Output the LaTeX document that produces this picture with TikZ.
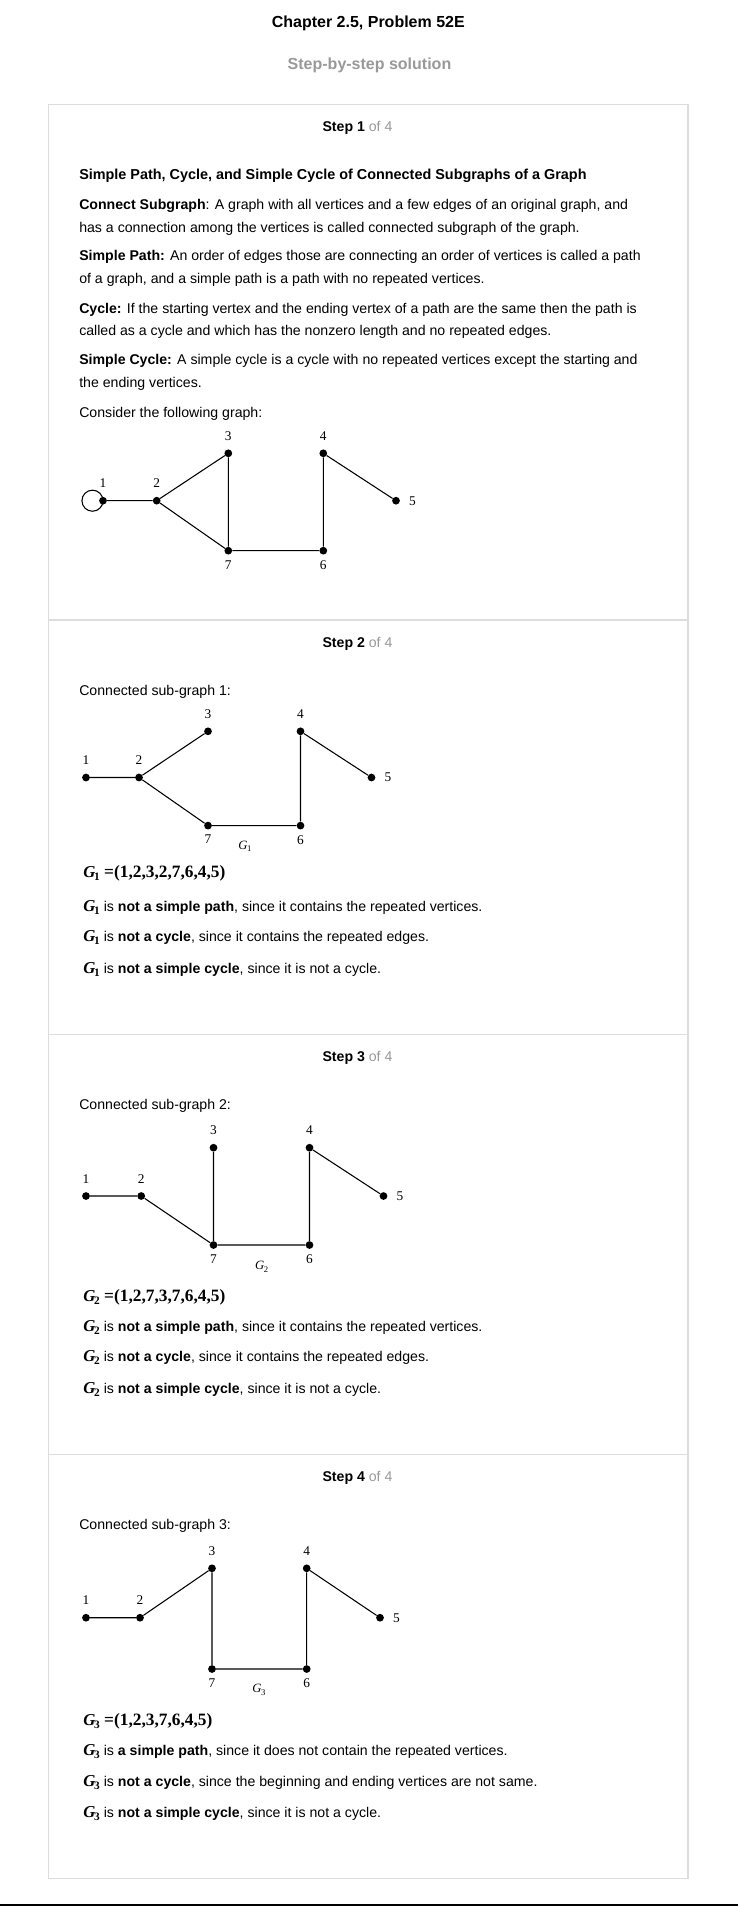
\documentclass[tikz,border=0pt]{standalone}
\usepackage{fontspec}
\setmainfont{Liberation Sans}
\newfontfamily\serifface{Liberation Serif}
\definecolor{softgray}{HTML}{999999}
\definecolor{rulegray}{HTML}{DDDDDD}
\newcommand{\bodysize}{\fontsize{10.6}{12.5}\selectfont}
\newcommand{\gsym}[1]{{\serifface\bfseries\fontsize{12.5}{12.5}\selectfont\itshape G\kern-0.8pt\raisebox{-2.3pt}{\upshape\fontsize{8.5}{8.5}\selectfont #1}}}
\newcommand{\gtag}[1]{{\serifface\fontsize{9.5}{9.5}\selectfont\itshape G\kern-0.3pt\raisebox{-1.8pt}{\upshape\fontsize{6.5}{6.5}\selectfont #1}}}
\newcommand{\steplabel}[1]{{\bfseries Step #1} {\color{softgray}of 4}}
\begin{document}
\begin{tikzpicture}[x=0.75pt,y=-0.75pt,
    txt/.style={anchor=base west,inner sep=0pt,font=\bodysize},
    steptxt/.style={anchor=base,inner sep=0pt,font=\bodysize},
    eqtxt/.style={anchor=base west,inner sep=0pt,font=\serifface\bfseries\fontsize{13}{13}\selectfont},
    vtx/.style={circle,fill=black,inner sep=0pt,minimum size=5.8pt},
    num/.style={inner sep=0pt,font=\serifface\fontsize{10}{10}\selectfont},
    vup/.style={label={[num,label distance=6.3pt]above:#1}},
    vdn/.style={label={[num,label distance=3.9pt]below:#1}},
    vrt/.style={label={[num,label distance=6.6pt]right:#1}},
    edge/.style={line width=0.8pt}]
\useasboundingbox (0,0) rectangle (738,1906);
\fill[white] (0,0) rectangle (738,1906);

% header
\node[anchor=base,inner sep=0pt,font=\bfseries\fontsize{12}{14}\selectfont] (title) at (368.3,27.5) {Chapter 2.5, Problem 52E};
\node[anchor=base,inner sep=0pt,font=\bfseries\fontsize{12}{14}\selectfont,text=softgray] (subtitle) at (369.5,69) {Step-by-step solution};

% frame
\draw[rulegray,line width=0.9pt] (48.5,104.5) rectangle (688,1878.3);
\draw[rulegray,line width=0.9pt] (48.5,620) -- (688,620);
\draw[rulegray,line width=0.9pt] (48.5,1034.3) -- (688,1034.3);
\draw[rulegray,line width=0.9pt] (48.5,1454.3) -- (688,1454.3);
\draw[black,line width=1.2pt] (0,1905.2) -- (738,1905.2);

% step 1
\node[steptxt] (s1) at (357.5,131) {\steplabel{1}};
\node[txt,font=\bfseries\fontsize{10.8}{12.5}\selectfont] (h1) at (79,179.5) {Simple Path, Cycle, and Simple Cycle of Connected Subgraphs of a Graph};
\node[txt] (t1) at (79,209.8) {\textbf{Connect Subgraph}: A graph with all vertices and a few edges of an original graph, and};
\node[txt] (t2) at (79,232.2) {has a connection among the vertices is called connected subgraph of the graph.};
\node[txt] (t3) at (79,260.8) {\textbf{Simple Path:} An order of edges those are connecting an order of vertices is called a path};
\node[txt] (t4) at (79,283.5) {of a graph, and a simple path is a path with no repeated vertices.};
\node[txt] (t5) at (79,313) {\textbf{Cycle:} If the starting vertex and the ending vertex of a path are the same then the path is};
\node[txt] (t6) at (79,335.5) {called as a cycle and which has the nonzero length and no repeated edges.};
\node[txt] (t7) at (79,364.5) {\textbf{Simple Cycle:} A simple cycle is a cycle with no repeated vertices except the starting and};
\node[txt] (t8) at (79,387) {the ending vertices.};
\node[txt] (t9) at (79,417) {Consider the following graph:};

\node[vtx,vup=1] (a1) at (103,500.7) {};
\node[vtx,vup=2] (a2) at (156.7,500.7) {};
\node[vtx,vup=3] (a3) at (228.3,453.3) {};
\node[vtx,vup=4] (a4) at (323.3,453.3) {};
\node[vtx,vrt=5] (a5) at (396,500.7) {};
\node[vtx,vdn=6] (a6) at (323.3,550.7) {};
\node[vtx,vdn=7] (a7) at (228.3,550.7) {};
\draw[edge] (a1) -- (a2) -- (a3) -- (a7) -- (a2);
\draw[edge] (a7) -- (a6) -- (a4) -- (a5);
\draw[edge] (a1.center) arc[start angle=0,end angle=360,radius=7.9pt];

% step 2
\node[steptxt] (s2) at (357.5,647.5) {\steplabel{2}};
\node[txt] (c1) at (79,695.5) {Connected sub-graph 1:};

\node[vtx,vup=1] (b1) at (86,777.5) {};
\node[vtx,vup=2] (b2) at (139,777.5) {};
\node[vtx,vup=3] (b3) at (208,731.3) {};
\node[vtx,vup=4] (b4) at (300.5,731.3) {};
\node[vtx,vrt=5] (b5) at (371.5,777.5) {};
\node[vtx,vdn=6] (b6) at (300.5,825.6) {};
\node[vtx,vdn=7] (b7) at (208,825.6) {};
\draw[edge] (b1) -- (b2) -- (b3);
\draw[edge] (b2) -- (b7) -- (b6) -- (b4) -- (b5);
\node[inner sep=0pt] (gt1) at (245,846) {\gtag{1}};

\node[eqtxt] (e1) at (83,877.5) {\gsym{1} =(1,2,3,2,7,6,4,5)};
\node[txt] (p1) at (83,911.2) {\gsym{1} is \textbf{not a simple path}, since it contains the repeated vertices.};
\node[txt] (p2) at (83,941.8) {\gsym{1} is \textbf{not a cycle}, since it contains the repeated edges.};
\node[txt] (p3) at (83,973.5) {\gsym{1} is \textbf{not a simple cycle}, since it is not a cycle.};

% step 3
\node[steptxt] (s3) at (357.5,1061) {\steplabel{3}};
\node[txt] (c2) at (79,1109.5) {Connected sub-graph 2:};

\node[vtx,vup=1] (c21) at (86,1196) {};
\node[vtx,vup=2] (c22) at (141.2,1196) {};
\node[vtx,vup=3] (c23) at (213.5,1147.7) {};
\node[vtx,vup=4] (c24) at (309.5,1147.7) {};
\node[vtx,vrt=5] (c25) at (383.5,1196) {};
\node[vtx,vdn=6] (c26) at (309.5,1245) {};
\node[vtx,vdn=7] (c27) at (213.5,1245) {};
\draw[edge] (c21) -- (c22) -- (c27) -- (c23);
\draw[edge] (c27) -- (c26) -- (c24) -- (c25);
\node[inner sep=0pt] (gt2) at (261.7,1266.7) {\gtag{2}};

\node[eqtxt] (e2) at (83,1301) {\gsym{2} =(1,2,7,3,7,6,4,5)};
\node[txt] (q1) at (83,1331.2) {\gsym{2} is \textbf{not a simple path}, since it contains the repeated vertices.};
\node[txt] (q2) at (83,1361.8) {\gsym{2} is \textbf{not a cycle}, since it contains the repeated edges.};
\node[txt] (q3) at (83,1393.8) {\gsym{2} is \textbf{not a simple cycle}, since it is not a cycle.};

% step 4
\node[steptxt] (s4) at (357.5,1481) {\steplabel{4}};
\node[txt] (c3) at (79,1529.5) {Connected sub-graph 3:};

\node[vtx,vup=1] (d1) at (86,1617.7) {};
\node[vtx,vup=2] (d2) at (140,1617.7) {};
\node[vtx,vup=3] (d3) at (212,1568.3) {};
\node[vtx,vup=4] (d4) at (306.7,1568.3) {};
\node[vtx,vrt=5] (d5) at (380,1617.7) {};
\node[vtx,vdn=6] (d6) at (306.7,1669) {};
\node[vtx,vdn=7] (d7) at (212,1669) {};
\draw[edge] (d1) -- (d2) -- (d3) -- (d7);
\draw[edge] (d7) -- (d6) -- (d4) -- (d5);
\node[inner sep=0pt] (gt3) at (259,1690) {\gtag{3}};

\node[eqtxt] (e3) at (83,1725) {\gsym{3} =(1,2,3,7,6,4,5)};
\node[txt] (r1) at (83,1755.2) {\gsym{3} is \textbf{a simple path}, since it does not contain the repeated vertices.};
\node[txt] (r2) at (83,1786.2) {\gsym{3} is \textbf{not a cycle}, since the beginning and ending vertices are not same.};
\node[txt] (r3) at (83,1817.8) {\gsym{3} is \textbf{not a simple cycle}, since it is not a cycle.};
\end{tikzpicture}
\end{document}
